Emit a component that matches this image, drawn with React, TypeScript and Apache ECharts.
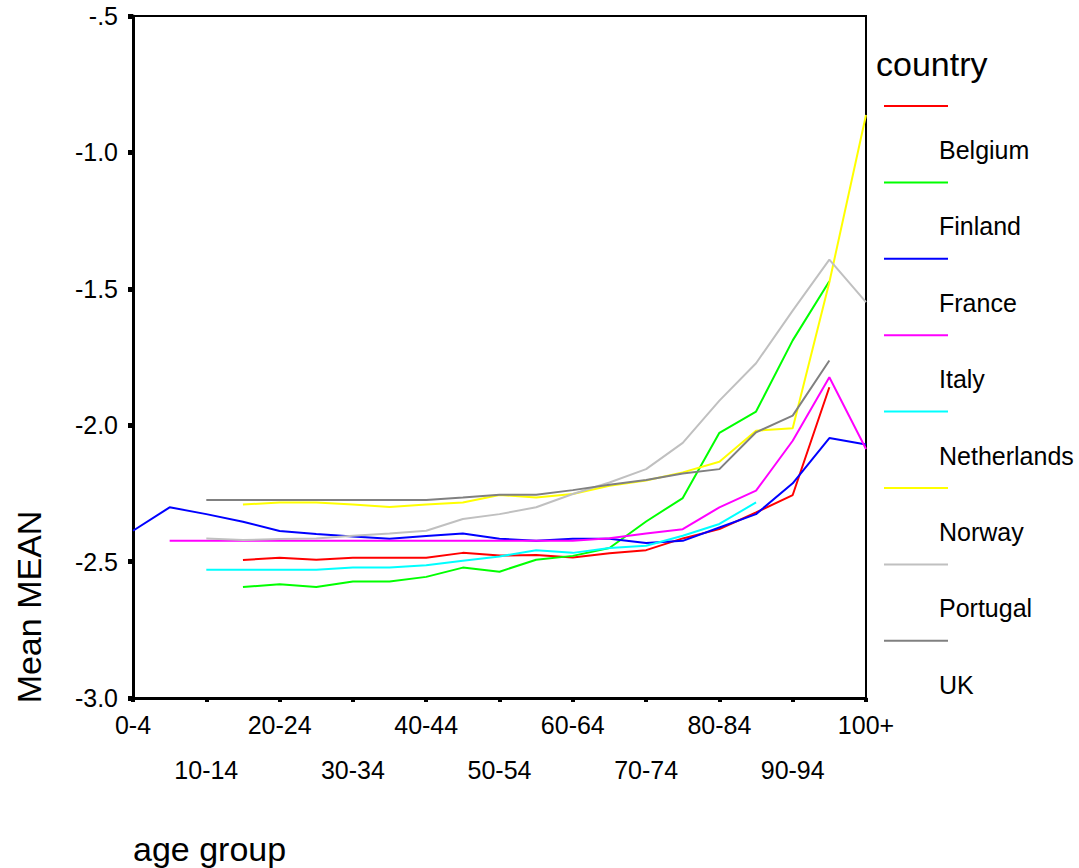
import React, { useEffect, useRef } from "react";
import * as echarts from "echarts";

const ageGroups = [
  "0-4", "5-9", "10-14", "15-19", "20-24", "25-29", "30-34", "35-39", "40-44", "45-49",
  "50-54", "55-59", "60-64", "65-69", "70-74", "75-79", "80-84", "85-89", "90-94", "95-99", "100+",
];

const countries = ["Belgium", "Finland", "France", "Italy", "Netherlands", "Norway", "Portugal", "UK"];
const colors = ["#ff0000", "#00ff00", "#0000ff", "#ff00ff", "#00ffff", "#ffff00", "#c0c0c0", "#808080"];

const belgium = [null, null, null, -2.494, -2.486, -2.493, -2.486, -2.486, -2.486, -2.468, -2.478, -2.476, -2.485, -2.469, -2.458, -2.415, -2.381, -2.32, -2.256, -1.861, null];
const finland = [null, null, null, -2.593, -2.583, -2.593, -2.573, -2.573, -2.556, -2.522, -2.537, -2.493, -2.479, -2.45, -2.353, -2.267, -2.028, -1.95, -1.689, -1.472, null];
const france = [-2.387, -2.301, -2.326, -2.354, -2.388, -2.399, -2.408, -2.416, -2.406, -2.397, -2.416, -2.424, -2.416, -2.416, -2.432, -2.424, -2.375, -2.326, -2.213, -2.047, -2.071];
const italy = [null, -2.424, -2.424, -2.424, -2.424, -2.424, -2.424, -2.424, -2.424, -2.424, -2.424, -2.424, -2.424, -2.414, -2.397, -2.381, -2.301, -2.24, -2.057, -1.824, -2.087];
const netherlands = [null, null, -2.53, -2.53, -2.53, -2.53, -2.522, -2.522, -2.513, -2.497, -2.481, -2.458, -2.468, -2.45, -2.442, -2.405, -2.362, -2.283, null, null, null];
const norway = [null, null, null, -2.291, -2.283, -2.283, -2.291, -2.3, -2.291, -2.283, -2.256, -2.265, -2.252, -2.222, -2.203, -2.173, -2.134, -2.02, -2.011, -1.476, -0.863];
const portugal = [null, null, -2.415, -2.421, -2.417, -2.415, -2.405, -2.397, -2.387, -2.344, -2.326, -2.301, -2.252, -2.21, -2.161, -2.065, -1.91, -1.773, -1.58, -1.393, -1.549];
const uk = [null, null, -2.274, -2.274, -2.274, -2.274, -2.274, -2.274, -2.274, -2.265, -2.255, -2.255, -2.238, -2.218, -2.201, -2.177, -2.161, -2.026, -1.965, -1.763, null];

const seriesValues = [belgium, finland, france, italy, netherlands, norway, portugal, uk];

const yTicks = { min: -3, max: -0.5, interval: 0.5 };

const FONT = "'Liberation Sans', Arial, sans-serif";

export default function App() {
  const ref = useRef<HTMLDivElement>(null);

  useEffect(() => {
    if (!ref.current) return;
    const chart = echarts.init(ref.current, null, { renderer: "svg" });

    const legendGraphics: any[] = [];
    countries.forEach((name, k) => {
      const ly = 106 + 76.4 * k;
      legendGraphics.push({
        type: "line",
        shape: { x1: 884, y1: ly, x2: 948, y2: ly },
        style: { stroke: colors[k], lineWidth: 2 },
      });
      legendGraphics.push({
        type: "text",
        x: 939,
        y: ly + 44,
        style: { text: name, fontSize: 25, fontFamily: FONT, fill: "#000", align: "left", verticalAlign: "middle" },
      });
    });

    chart.setOption({
      animation: false,
      backgroundColor: "#ffffff",
      grid: {
        left: 133,
        top: 16,
        width: 733,
        height: 682,
        show: true,
        borderColor: "#000",
        borderWidth: 2,
        containLabel: false,
      },
      xAxis: {
        type: "category",
        data: ageGroups,
        boundaryGap: false,
        axisLine: { lineStyle: { color: "#000", width: 3 } },
        axisTick: { interval: 1, length: 4, lineStyle: { color: "#000", width: 4 } },
        axisLabel: {
          interval: 1,
          margin: 4,
          fontSize: 25,
          lineHeight: 45,
          fontFamily: FONT,
          color: "#000",
          formatter: (value: string, index: number) => (index % 4 === 0 ? value : "\n" + value),
        },
        splitLine: { show: false },
      },
      yAxis: {
        type: "value",
        min: yTicks.min,
        max: yTicks.max,
        interval: yTicks.interval,
        axisLine: { show: true, lineStyle: { color: "#000", width: 3 } },
        axisTick: { show: true, length: 5, lineStyle: { color: "#000", width: 5 } },
        axisLabel: {
          margin: 15,
          fontSize: 25,
          fontFamily: FONT,
          color: "#000",
          formatter: (v: number) => (Math.abs(v + 0.5) < 1e-9 ? "-.5" : v.toFixed(1)),
        },
        splitLine: { show: false },
      },
      series: countries.map((name, k) => ({
        name,
        type: "line",
        data: seriesValues[k],
        symbol: "none",
        connectNulls: false,
        lineStyle: { color: colors[k], width: 2 },
        itemStyle: { color: colors[k] },
      })),
      graphic: [
        {
          type: "text",
          x: 876,
          y: 64,
          style: { text: "country", fontSize: 34, fontFamily: FONT, fill: "#000", align: "left", verticalAlign: "middle" },
        },
        ...legendGraphics,
        {
          type: "text",
          x: 29,
          y: 607,
          rotation: Math.PI / 2,
          style: { text: "Mean MEAN", fontSize: 34, fontFamily: FONT, fill: "#000", align: "center", verticalAlign: "middle" },
        },
        {
          type: "text",
          x: 133,
          y: 849,
          style: { text: "age group", fontSize: 34, fontFamily: FONT, fill: "#000", align: "left", verticalAlign: "middle" },
        },
      ],
    });

    return () => chart.dispose();
  }, []);

  return (
    <div
      ref={ref}
      style={{ position: "absolute", left: 0, top: 0, width: 1079, height: 868 }}
    />
  );
}
